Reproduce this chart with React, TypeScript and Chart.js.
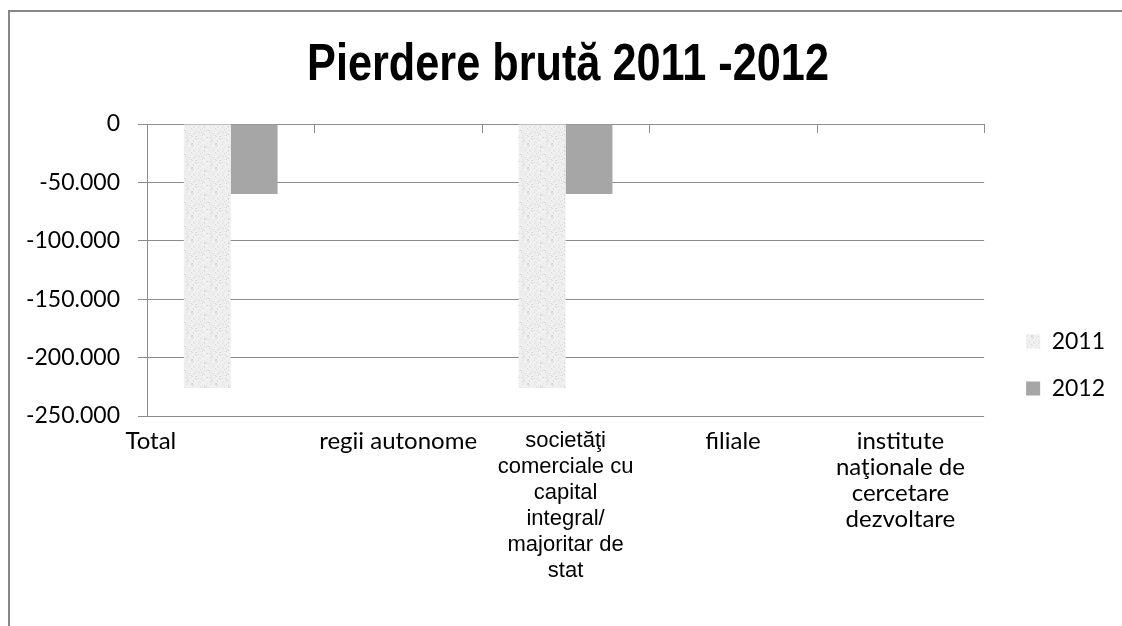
import React, { useEffect, useRef } from "react";
import { Chart, registerables } from "chart.js";

Chart.register(...registerables);

// ---- data ----
const categories = [
  "Total",
  "regii autonome",
  "societăţi comerciale cu capital integral/ majoritar de stat",
  "filiale",
  "institute naţionale de cercetare dezvoltare",
];
const categoryLines = [
  ["Total" + " ".repeat(26)],
  ["regii autonome"],
  ["societăţi", "comerciale cu", "capital", "integral/", "majoritar de", "stat"],
  ["filiale"],
  ["institute", "naţionale de", "cercetare", "dezvoltare"],
];
const seriesNames = ["2011", "2012"];
const values2011 = [-226000, null, -226000, null, null];
const values2012 = [-60000, null, -60000, null, null];
const yMin = -250000;
const yMax = 0;
const yStep = 50000;
const titleText = "Pierdere brută 2011 -2012";

const GRID = "#8c8c8c";

function makeTexture(): CanvasPattern | string {
  const c = document.createElement("canvas");
  c.width = 24;
  c.height = 24;
  const g = c.getContext("2d");
  if (!g) return "#eeeeee";
  g.fillStyle = "#f0f0f0";
  g.fillRect(0, 0, 24, 24);
  for (let i = 0; i < 24; i++) {
    for (let j = 0; j < 24; j++) {
      const h = (i * 73 + j * 151 + ((i * j) % 7) * 29) % 23;
      if (h < 4) {
        g.fillStyle = h === 0 ? "#d4d4d4" : h === 1 ? "#dcdcdc" : "#e4e4e4";
        g.fillRect(i, j, 1, 1);
      }
    }
  }
  const p = g.createPattern(c, "repeat");
  return p || "#eeeeee";
}

function fmt(v: number): string {
  if (v === 0) return "0";
  const s = Math.abs(v).toString().replace(/\B(?=(\d{3})+(?!\d))/g, ".");
  return (v < 0 ? "-" : "") + s;
}

const topTicksPlugin = {
  id: "topTicks",
  afterDatasetsDraw(chart: any) {
    const xs = chart.scales.x;
    const { top } = chart.chartArea;
    const ctx = chart.ctx;
    const n = categories.length;
    const half = (xs.getPixelForValue(1) - xs.getPixelForValue(0)) / 2;
    ctx.save();
    ctx.strokeStyle = GRID;
    ctx.lineWidth = 1;
    for (let i = 1; i <= n; i++) {
      const px = Math.round(xs.getPixelForValue(i - 1) + half) + 0.5;
      ctx.beginPath();
      ctx.moveTo(px, top);
      ctx.lineTo(px, top + 9);
      ctx.stroke();
    }
    ctx.restore();
  },
};

const legendShiftPlugin = {
  id: "legendShift",
  afterLayout(chart: any) {
    const lg = chart.legend;
    if (!lg) return;
    const dx = chart.chartArea.right + 18 - lg.left;
    lg.left += dx;
    lg.right += dx;
    lg.top -= 10;
    lg.bottom -= 10;
  },
};

const condensedTitlePlugin = {
  id: "condensedTitle",
  afterDraw(chart: any) {
    const ctx = chart.ctx;
    ctx.save();
    ctx.font = 'bold 52px "Liberation Sans", Arial, sans-serif';
    ctx.fillStyle = "#000";
    ctx.textAlign = "center";
    ctx.textBaseline = "middle";
    ctx.translate(chart.width / 2, 66);
    ctx.scale(0.832, 1);
    ctx.fillText(titleText, 0, 0);
    ctx.restore();
  },
};

export default function App() {
  const ref = useRef<HTMLCanvasElement | null>(null);

  useEffect(() => {
    if (!ref.current) return;
    const texture = makeTexture();
    const chart = new Chart(ref.current, {
      type: "bar",
      data: {
        labels: categoryLines,
        datasets: [
          {
            label: seriesNames[0],
            data: values2011,
            backgroundColor: texture as any,
            borderWidth: 0,
            categoryPercentage: 0.56,
            barPercentage: 1.0,
          },
          {
            label: seriesNames[1],
            data: values2012,
            backgroundColor: "#a6a6a6",
            borderWidth: 0,
            categoryPercentage: 0.56,
            barPercentage: 1.0,
          },
        ],
      },
      options: {
        animation: false,
        responsive: false,
        maintainAspectRatio: false,
        events: [],
        layout: { padding: { left: 27, right: 39, top: 124, bottom: 0 } },
        plugins: {
          title: { display: false },
          legend: {
            position: "right",
            labels: {
              boxWidth: 14,
              boxHeight: 14,
              padding: 24,
              color: "#000",
              font: { family: "Lato", size: 23 },
            },
          },
          tooltip: { enabled: false },
        },
        scales: {
          x: {
            grid: { display: false },
            border: { display: false },
            ticks: {
              autoSkip: false,
              maxRotation: 0,
              minRotation: 0,
              padding: 4,
              color: "#000",
              font: (ctx: any) =>
                ctx.index === 2
                  ? { family: '"Liberation Sans", Arial, sans-serif', size: 22, lineHeight: 26 / 22 }
                  : { family: "Lato", size: 24, lineHeight: 26 / 24 },
            },
            afterFit: (s: any) => {
              s.height = 210;
            },
          },
          y: {
            min: yMin,
            max: yMax,
            ticks: {
              stepSize: yStep,
              padding: 18,
              color: "#000",
              font: { family: "Lato", size: 23 },
              callback: (v: any) => fmt(Number(v)),
            },
            grid: { color: GRID, tickLength: 9, lineWidth: 1 },
            border: { color: GRID, width: 1 },
            afterFit: (s: any) => {
              s.width = 120;
            },
          },
        },
      },
      plugins: [topTicksPlugin, legendShiftPlugin, condensedTitlePlugin],
    } as any);
    return () => chart.destroy();
  }, []);

  return (
    <div style={{ position: "fixed", left: 0, top: 0, width: 1122, height: 626, overflow: "hidden", background: "#fff" }}>
      <div
        style={{
          position: "absolute",
          left: 8,
          top: 10,
          width: 1300,
          height: 800,
          border: "2px solid #878787",
          boxSizing: "border-box",
        }}
      />
      <canvas ref={ref} width={1136} height={626} style={{ position: "absolute", left: 0, top: 0, width: 1136, height: 626 }} />
    </div>
  );
}
